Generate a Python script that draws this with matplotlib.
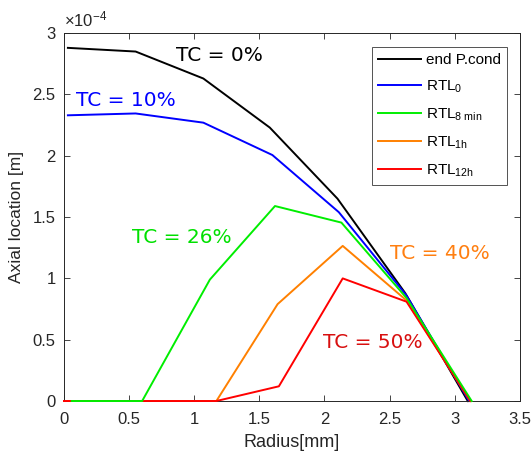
import matplotlib
matplotlib.use("Agg")
import matplotlib.pyplot as plt

plt.rcParams['font.family'] = ['Liberation Sans', 'DejaVu Sans']
plt.rcParams['mathtext.fontset'] = 'custom'
plt.rcParams['mathtext.rm'] = 'Liberation Sans'
plt.rcParams['mathtext.it'] = 'Liberation Sans'

# Axial location in units of 1e-4 m, radius in mm
r_end = [0.03, 0.55, 1.07, 1.58, 2.10, 2.62, 3.10]
z_end = [2.88, 2.85, 2.63, 2.23, 1.65, 0.88, 0.0]
r_rtl0 = [0.03, 0.55, 1.07, 1.60, 2.11, 2.63, 3.11]
z_rtl0 = [2.33, 2.345, 2.27, 2.006, 1.54, 0.86, 0.0]
r_rtl8 = [0.06, 0.60, 1.12, 1.62, 2.13, 2.63, 3.13]
z_rtl8 = [0.0, 0.0, 0.99, 1.59, 1.455, 0.84, 0.0]
r_rtl1h = [0.0, 0.60, 1.17, 1.64, 2.14, 2.63, 3.12]
z_rtl1h = [0.0, 0.0, 0.0, 0.79, 1.265, 0.82, 0.0]
r_rtl12h = [0.0, 0.60, 1.17, 1.65, 2.14, 2.63, 3.12]
z_rtl12h = [0.0, 0.0, 0.0, 0.12, 1.00, 0.81, 0.0]

labels = ['end P.cond', r'RTL$_{\mathrm{0}}$', r'RTL$_{\mathrm{8\ min}}$',
          r'RTL$_{\mathrm{1h}}$', r'RTL$_{\mathrm{12h}}$']
colors = ['#000000', '#0000ff', '#00ee00', '#ff8000', '#ff0000']

tc_texts = ['TC = 0%', 'TC = 10%', 'TC = 26%', 'TC = 40%', 'TC = 50%']
tc_pos = [(0.86, 2.82), (0.09, 2.45), (0.52, 1.33), (2.50, 1.20), (1.99, 0.475)]
tc_colors = ['#000000', '#0000ff', '#00e000', '#ff7f10', '#d81010']

fig = plt.figure(figsize=(5.31, 4.54), dpi=100)
ax = fig.add_axes([0.1205, 0.1167, 0.8585, 0.8103])

series = [(r_end, z_end), (r_rtl0, z_rtl0), (r_rtl8, z_rtl8),
          (r_rtl1h, z_rtl1h), (r_rtl12h, z_rtl12h)]
zords = [2, 2, 4, 2, 3]
for (x, y), c, lab, zo in zip(series, colors, labels, zords):
    ax.plot(x, y, color=c, lw=1.4, label=lab, zorder=zo, clip_on=False)

for t, (x, y), c in zip(tc_texts, tc_pos, tc_colors):
    ax.text(x, y, t, color=c, fontsize=14.5, va='center', ha='left',
            family='DejaVu Sans')

ax.set_xlim(0, 3.5)
ax.set_ylim(0, 3)
ax.set_xticks([0, 0.5, 1, 1.5, 2, 2.5, 3, 3.5])
ax.set_xticklabels(['0', '0.5', '1', '1.5', '2', '2.5', '3', '3.5'])
ax.set_yticks([0, 0.5, 1, 1.5, 2, 2.5, 3])
ax.set_yticklabels(['0', '0.5', '1', '1.5', '2', '2.5', '3'])
tc = '#262626'
ax.tick_params(direction='in', top=True, right=True, length=4, width=0.6,
               labelsize=12, colors=tc)
ax.tick_params(axis='x', pad=8)
ax.tick_params(axis='y', pad=6)
for s in ax.spines.values():
    s.set_color(tc)
    s.set_linewidth(0.7)
ax.set_xlabel('Radius[mm]', fontsize=13, color=tc, labelpad=5)
ax.set_ylabel('Axial location [m]', fontsize=12.5, color=tc, labelpad=6)
ax.text(0.0, 1.01, r'$\times\mathrm{10^{-4}}$', transform=ax.transAxes,
        fontsize=12, color=tc, ha='left', va='bottom')

leg = ax.legend(loc='upper right', fontsize=11, frameon=True, fancybox=False,
                edgecolor=tc, handlelength=2.8, borderpad=0.4,
                labelspacing=0.75, handletextpad=0.3, borderaxespad=0,
                bbox_to_anchor=(0.971, 0.962))
leg.get_frame().set_linewidth(0.7)

fig.savefig('out.png', dpi=100)
